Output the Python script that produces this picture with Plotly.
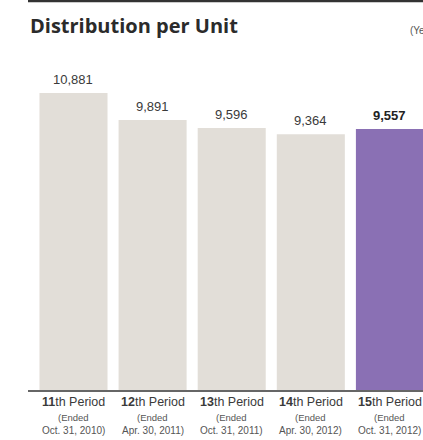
import plotly.graph_objects as go

periods = ["11", "12", "13", "14", "15"]
ended_dates = ["Oct. 31, 2010)", "Apr. 30, 2011)", "Oct. 31, 2011)", "Apr. 30, 2012)", "Oct. 31, 2012)"]
values = [10881, 9891, 9596, 9364, 9557]
value_labels = ["10,881", "9,891", "9,596", "9,364", "9,557"]

GRAY = "#e2ded8"
PURPLE = "#8a70b4"
TEXT = "#3a3a3a"
FONT = "Liberation Sans"

x = list(range(len(values)))
colors = [GRAY] * (len(values) - 1) + [PURPLE]

fig = go.Figure(go.Bar(x=x, y=values, marker_color=colors, marker_line_width=0,
                       width=0.86, hoverinfo="skip"))

ann = []
for i, (v, lab) in enumerate(zip(values, value_labels)):
    last = i == len(values) - 1
    ann.append(dict(x=i, y=v, xref="x", yref="y", text=f"<b>{lab}</b>" if last else lab,
                    showarrow=False, yanchor="bottom", yshift=4,
                    font=dict(family=FONT, size=13, color="#222" if last else TEXT)))
    ann.append(dict(x=i, y=0, xref="x", yref="paper", text=f"<b>{periods[i]}</b>th Period",
                    showarrow=False, yanchor="middle", yshift=-12,
                    font=dict(family=FONT, size=12.5, color=TEXT)))
    ann.append(dict(x=i, y=0, xref="x", yref="paper", text="(Ended",
                    showarrow=False, yanchor="middle", yshift=-27,
                    font=dict(family=FONT, size=9.5, color="#555")))
    ann.append(dict(x=i, y=0, xref="x", yref="paper", text=ended_dates[i],
                    showarrow=False, yanchor="middle", yshift=-40,
                    font=dict(family=FONT, size=10, color="#555")))

ann.append(dict(x=0, y=1.106, xref="paper", yref="paper", text="<b>Distribution per Unit</b>",
                showarrow=False, xanchor="left", yanchor="middle",
                font=dict(family="Open Sans", size=20, color="#2b2b2b")))
ann.append(dict(x=0.962, y=1.09, xref="paper", yref="paper", text="(Yen)",
                showarrow=False, xanchor="left", yanchor="middle",
                font=dict(family=FONT, size=10, color="#555")))

fig.update_layout(
    width=423, height=440,
    margin=dict(l=28, r=0, t=60, b=50),
    paper_bgcolor="white", plot_bgcolor="white",
    showlegend=False,
    annotations=ann,
    shapes=[dict(type="line", xref="paper", yref="paper", x0=0, x1=1.1, y0=1.1788, y1=1.1788,
                 line=dict(color="#333", width=2.5))],
    xaxis=dict(range=[-0.575, 4.418], showticklabels=False, showgrid=False, zeroline=False,
               showline=True, linecolor="#666", linewidth=1.5, ticks=""),
    yaxis=dict(range=[0, 12088], visible=False, showgrid=False, zeroline=False),
)

fig.write_html("out.html", config={"displayModeBar": False},
               post_script="document.body.style.margin='0';document.body.style.overflow='hidden';")
